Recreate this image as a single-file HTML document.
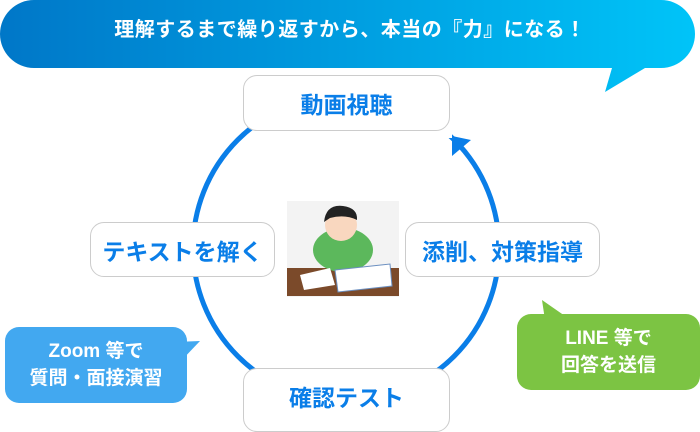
<!DOCTYPE html>
<html><head><meta charset="utf-8"><style>
body{margin:0;width:700px;height:424px;overflow:hidden;background:#fff;font-family:"Liberation Sans","Noto Sans CJK JP",sans-serif;position:relative}
.node{position:absolute;background:#fff;border:1px solid #ccc;border-radius:14px;color:#0a7ee8;font-size:23px;font-weight:bold;display:flex;align-items:center;justify-content:center;box-sizing:border-box}
.b{position:absolute;color:#fff;font-size:19px;text-align:center;line-height:27px;border-radius:14px;display:flex;align-items:center;justify-content:center;flex-direction:column;font-weight:bold}
</style></head><body>
<svg width="700" height="424" style="position:absolute;left:0;top:0">
<defs><linearGradient id="g" x1="0" x2="1"><stop offset="0" stop-color="#0077c8"/><stop offset="1" stop-color="#00c4f8"/></linearGradient></defs>
<path d="M34,0 H661 A34,34 0 0 1 661,68 H645 L605,92 L612,68 H34 A34,34 0 0 1 34,0Z" fill="url(#g)"/>
<circle cx="346" cy="248" r="153" fill="none" stroke="#0a7ee8" stroke-width="5"/>
<rect x="438" y="128" width="14" height="10" fill="#fff"/>
<polygon points="452,136 452,156 471,140" fill="#0a7ee8"/>
<polygon points="175,342 200,341 180,362" fill="#42a8f0"/>
<polygon points="542,300 545,320 565,316" fill="#7cc443"/>
<rect x="287" y="201" width="112" height="96" fill="#f3f3f3"/>
<rect x="287" y="268" width="112" height="28" fill="#7b4a2a"/>
<ellipse cx="343" cy="250" rx="30" ry="22" fill="#5cb85c"/>
<circle cx="341" cy="225" r="16" fill="#f9d7bf"/>
<path d="M324,222 Q326,204 343,206 Q358,208 357,220 Q345,214 330,218Z" fill="#222"/>
<polygon points="300,275 330,268 335,285 304,290" fill="#fff"/>
<polygon points="335,270 390,264 392,286 338,292" fill="#fff" stroke="#6b8fc0"/>
</svg>
<div style="position:absolute;left:0;top:13px;width:700px;text-align:center;color:#fff;font-size:20px;font-weight:bold;letter-spacing:0.5px">理解するまで繰り返すから、本当の『力』になる！</div>
<div class="node" style="left:243px;top:75px;width:207px;height:56px">動画視聴</div>
<div class="node" style="left:90px;top:222px;width:185px;height:55px">テキストを解く</div>
<div class="node" style="left:405px;top:222px;width:195px;height:55px">添削、対策指導</div>
<div class="node" style="left:243px;top:368px;width:207px;height:64px;padding-bottom:8px">確認テスト</div>
<div class="b" style="left:5px;top:327px;width:182px;height:76px;background:#42a8f0">Zoom 等で<br>質問・面接演習</div>
<div class="b" style="left:517px;top:314px;width:183px;height:76px;background:#7cc443">LINE 等で<br>回答を送信</div>
</body></html>
